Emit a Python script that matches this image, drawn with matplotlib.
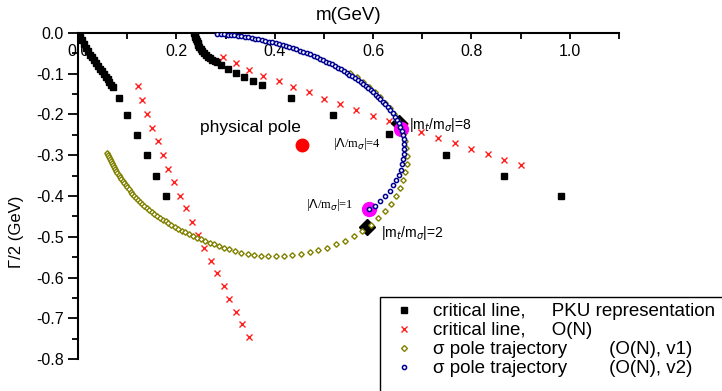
import matplotlib
matplotlib.use("Agg")
import matplotlib.pyplot as plt
from matplotlib.lines import Line2D
from matplotlib.patches import Rectangle
from matplotlib.ticker import MultipleLocator, FormatStrFormatter

plt.rcParams["font.family"] = ["Liberation Sans", "DejaVu Sans"]
plt.rcParams["axes.unicode_minus"] = False

# critical line, PKU representation (black squares)
pku_m = [0.0, 0.004, 0.008, 0.012, 0.016, 0.020, 0.024, 0.028, 0.032, 0.036,
         0.040, 0.044, 0.048, 0.052, 0.056, 0.060, 0.064, 0.068, 0.071,
         0.083, 0.100, 0.120, 0.140, 0.159, 0.179,
         0.236, 0.237, 0.238, 0.240, 0.241, 0.243, 0.245, 0.247, 0.250, 0.253,
         0.256, 0.260, 0.264, 0.268, 0.273, 0.278, 0.283,
         0.291, 0.306, 0.322, 0.338, 0.355, 0.374, 0.434, 0.519, 0.632, 0.748,
         0.866, 0.982]
pku_g = [0.0, -0.009, -0.018, -0.027, -0.036, -0.044, -0.053, -0.060, -0.067, -0.074,
         -0.081, -0.088, -0.094, -0.101, -0.108, -0.114, -0.120, -0.127, -0.132,
         -0.160, -0.200, -0.250, -0.300, -0.350, -0.400,
         0.0, -0.005, -0.010, -0.015, -0.020, -0.025, -0.030, -0.035, -0.040, -0.045,
         -0.050, -0.054, -0.058, -0.062, -0.066, -0.069, -0.072,
         -0.079, -0.088, -0.098, -0.107, -0.117, -0.128, -0.160, -0.200, -0.248, -0.300,
         -0.350, -0.400]

# critical line, O(N) (red crosses)
on_m = [0.121, 0.131, 0.140, 0.151, 0.162, 0.173, 0.183, 0.195, 0.208, 0.220,
        0.232, 0.245, 0.257, 0.270, 0.283, 0.296, 0.308, 0.322, 0.334, 0.347,
        0.295, 0.322, 0.348, 0.377, 0.408, 0.438, 0.469, 0.500, 0.533, 0.565,
        0.600, 0.632, 0.665, 0.697, 0.731, 0.766, 0.799, 0.833, 0.866, 0.900]
on_g = [-0.130, -0.164, -0.199, -0.232, -0.266, -0.300, -0.333, -0.366, -0.400, -0.430,
        -0.464, -0.495, -0.527, -0.559, -0.589, -0.621, -0.652, -0.684, -0.714, -0.745,
        -0.058, -0.073, -0.090, -0.105, -0.118, -0.133, -0.146, -0.161, -0.175, -0.189,
        -0.203, -0.215, -0.229, -0.243, -0.257, -0.270, -0.284, -0.297, -0.311, -0.324]

# sigma pole trajectory (O(N), v1)
v1_m = [0.059, 0.061, 0.063, 0.065, 0.067, 0.069, 0.072, 0.074, 0.076, 0.078,
        0.080, 0.083, 0.086, 0.088, 0.091, 0.094, 0.097, 0.100, 0.103, 0.107,
        0.110, 0.114, 0.118, 0.122, 0.126, 0.130, 0.135, 0.140, 0.145, 0.150,
        0.155, 0.160, 0.166, 0.172, 0.178, 0.184, 0.190, 0.197, 0.204, 0.211,
        0.218, 0.226, 0.234, 0.242, 0.250, 0.259, 0.268, 0.277, 0.287, 0.297,
        0.308, 0.320, 0.332, 0.345, 0.358, 0.372, 0.387, 0.403, 0.419, 0.436,
        0.453, 0.471, 0.489, 0.507, 0.525, 0.543, 0.561, 0.578, 0.595, 0.610,
        0.624, 0.636, 0.646, 0.654, 0.660, 0.665, 0.668, 0.668, 0.667, 0.664,
        0.660, 0.655, 0.649, 0.642, 0.634, 0.625, 0.615, 0.604, 0.592, 0.580,
        0.567, 0.554]
v1_g = [-0.294, -0.299, -0.304, -0.309, -0.314, -0.319, -0.324, -0.329, -0.334, -0.339,
        -0.344, -0.349, -0.354, -0.359, -0.364, -0.369, -0.374, -0.379, -0.384, -0.389,
        -0.394, -0.399, -0.404, -0.409, -0.414, -0.419, -0.424, -0.429, -0.434, -0.439,
        -0.444, -0.448, -0.453, -0.458, -0.462, -0.467, -0.471, -0.476, -0.480, -0.485,
        -0.489, -0.494, -0.498, -0.502, -0.506, -0.511, -0.515, -0.519, -0.523, -0.527,
        -0.531, -0.535, -0.539, -0.542, -0.545, -0.547, -0.548, -0.548, -0.547, -0.545,
        -0.542, -0.538, -0.533, -0.527, -0.519, -0.510, -0.499, -0.486, -0.471, -0.455,
        -0.438, -0.420, -0.401, -0.381, -0.361, -0.341, -0.321, -0.301, -0.282, -0.264,
        -0.247, -0.230, -0.214, -0.199, -0.185, -0.171, -0.158, -0.145, -0.132, -0.120,
        -0.109, -0.099]

# sigma pole trajectory (O(N), v2)
v2_m = [0.283, 0.290, 0.297, 0.304, 0.311, 0.318, 0.325, 0.332, 0.339, 0.346,
        0.353, 0.360, 0.367, 0.374, 0.381, 0.388, 0.395, 0.402, 0.409, 0.416,
        0.423, 0.430, 0.437, 0.444, 0.451, 0.458, 0.465, 0.472, 0.479, 0.486,
        0.492, 0.498, 0.504, 0.510, 0.516, 0.522, 0.528, 0.534, 0.540, 0.546,
        0.552, 0.558, 0.564, 0.570, 0.575, 0.580, 0.585, 0.590, 0.595, 0.600,
        0.605, 0.610, 0.615, 0.620, 0.625, 0.630, 0.635, 0.640, 0.645, 0.649,
        0.652, 0.655, 0.658, 0.660, 0.662, 0.663, 0.663, 0.662, 0.661, 0.659,
        0.656, 0.652, 0.647, 0.641, 0.634, 0.625, 0.615, 0.604, 0.592]
v2_g = [-0.002, -0.003, -0.003, -0.004, -0.005, -0.006, -0.007, -0.008, -0.010, -0.011,
        -0.012, -0.014, -0.015, -0.017, -0.019, -0.021, -0.023, -0.025, -0.027, -0.030,
        -0.032, -0.035, -0.037, -0.040, -0.043, -0.046, -0.049, -0.052, -0.056, -0.059,
        -0.063, -0.066, -0.070, -0.073, -0.077, -0.081, -0.085, -0.089, -0.093, -0.097,
        -0.102, -0.106, -0.111, -0.116, -0.121, -0.126, -0.131, -0.136, -0.141, -0.146,
        -0.152, -0.157, -0.163, -0.169, -0.175, -0.182, -0.189, -0.197, -0.205, -0.213,
        -0.221, -0.230, -0.240, -0.250, -0.261, -0.272, -0.284, -0.296, -0.309, -0.322,
        -0.335, -0.348, -0.361, -0.374, -0.387, -0.400, -0.413, -0.424, -0.433]

# marked points
mt_m = [0.652, 0.588]            # |m_t/m_sigma| = 8, 2
mt_g = [-0.220, -0.476]
lam_m = [0.657, 0.592]           # |Lambda/m_sigma| = 4, 1
lam_g = [-0.236, -0.432]
phys_m = [0.455]
phys_g = [-0.275]

legend_labels = ["critical line,     PKU representation",
                 "critical line,     O(N)",
                 "\u03c3 pole trajectory        (O(N), v1)",
                 "\u03c3 pole trajectory        (O(N), v2)"]

olive = "#808000"
navy = "#000090"

fig = plt.figure(figsize=(7.22, 3.91), dpi=100)
ax = fig.add_axes([78 / 722, 1 - 359 / 391, 541 / 722, 326 / 391])

ax.plot(pku_m, pku_g, ls="none", marker="s", ms=4.2, color="black", zorder=2)
ax.plot(on_m, on_g, ls="none", marker="x", ms=5, mew=1.0, color="#ff2020", zorder=2)
ax.plot(phys_m, phys_g, ls="none", marker="o", ms=9, color="#ff0000", zorder=3)
ax.plot(mt_m, mt_g, ls="none", marker="D", ms=8, color="black", zorder=3)
ax.plot(lam_m, lam_g, ls="none", marker="o", ms=10, color="#ff00ff", zorder=4)
ax.plot(v1_m, v1_g, ls="none", marker="D", ms=2.8, mfc="white", mec=olive, mew=1.0, zorder=5)
ax.plot(v2_m, v2_g, ls="none", marker="o", ms=3.0, mfc="white", mec=navy, mew=1.1, zorder=6)

ax.text(0.248, -0.232, "physical pole", fontsize=12.5, va="center")
ax.text(0.673, -0.226, r"|m$_t$/m$_\sigma$|=8", fontsize=10, va="center")
ax.text(0.518, -0.272, r"|$\Lambda$/m$_\sigma$|=4", fontsize=9, va="center",
        family=["Liberation Serif"])
ax.text(0.463, -0.422, r"|$\Lambda$/m$_\sigma$|=1", fontsize=9, va="center",
        family=["Liberation Serif"])
ax.text(0.616, -0.49, r"|m$_t$/m$_\sigma$|=2", fontsize=10, va="center")

ax.set_xlim(0, 1.1)
ax.set_ylim(-0.8, 0)
ax.spines["right"].set_visible(False)
ax.spines["bottom"].set_visible(False)
for s in ("top", "left"):
    ax.spines[s].set_linewidth(1.5)

ax.xaxis.tick_top()
ax.xaxis.set_major_locator(MultipleLocator(0.2))
ax.xaxis.set_minor_locator(MultipleLocator(0.1))
ax.xaxis.set_major_formatter(FormatStrFormatter("%.1f"))
ax.set_xticks([0.0, 0.2, 0.4, 0.6, 0.8, 1.0])
ax.tick_params(axis="x", which="both", direction="in", top=True, bottom=False,
               labeltop=True, labelbottom=False, width=1.3, labelsize=11.5)
ax.tick_params(axis="x", which="major", length=4, pad=-19)
ax.tick_params(axis="x", which="minor", length=4)

ax.yaxis.set_major_locator(MultipleLocator(0.1))
ax.yaxis.set_minor_locator(MultipleLocator(0.05))
ax.yaxis.set_major_formatter(FormatStrFormatter("%.1f"))
ax.tick_params(axis="y", which="both", direction="out", width=1.3, labelsize=11.5)
ax.tick_params(axis="y", which="major", length=7, pad=3)
ax.tick_params(axis="y", which="minor", length=4)

fig.text(349 / 722, 1 - 15 / 391, "m(GeV)", fontsize=13.5, ha="center", va="center")
fig.text(16 / 722, 1 - 232 / 391, "\u0393/2 (GeV)", fontsize=12, rotation=90,
         ha="center", va="center")

handles = [
    Line2D([], [], ls="none", marker="s", ms=4, color="black"),
    Line2D([], [], ls="none", marker="x", ms=5, mew=1.0, color="#ff2020"),
    Line2D([], [], ls="none", marker="D", ms=3, mfc="white", mec=olive, mew=1.0),
    Line2D([], [], ls="none", marker="o", ms=3, mfc="white", mec=navy, mew=1.1),
]
fig.legend(handles, legend_labels, loc="upper left",
           bbox_to_anchor=(394 / 722, 1 - 303 / 391), frameon=False,
           fontsize=13.5, handlelength=1.1, handletextpad=1.0, labelspacing=0.1,
           borderpad=0, borderaxespad=0)
fig.add_artist(Rectangle((380 / 722, -0.2), 0.6, 0.2 + 1 - 297 / 391,
                         transform=fig.transFigure, fill=False, lw=1.0,
                         edgecolor="black"))

fig.savefig("out.png", dpi=100)
plt.close(fig)
